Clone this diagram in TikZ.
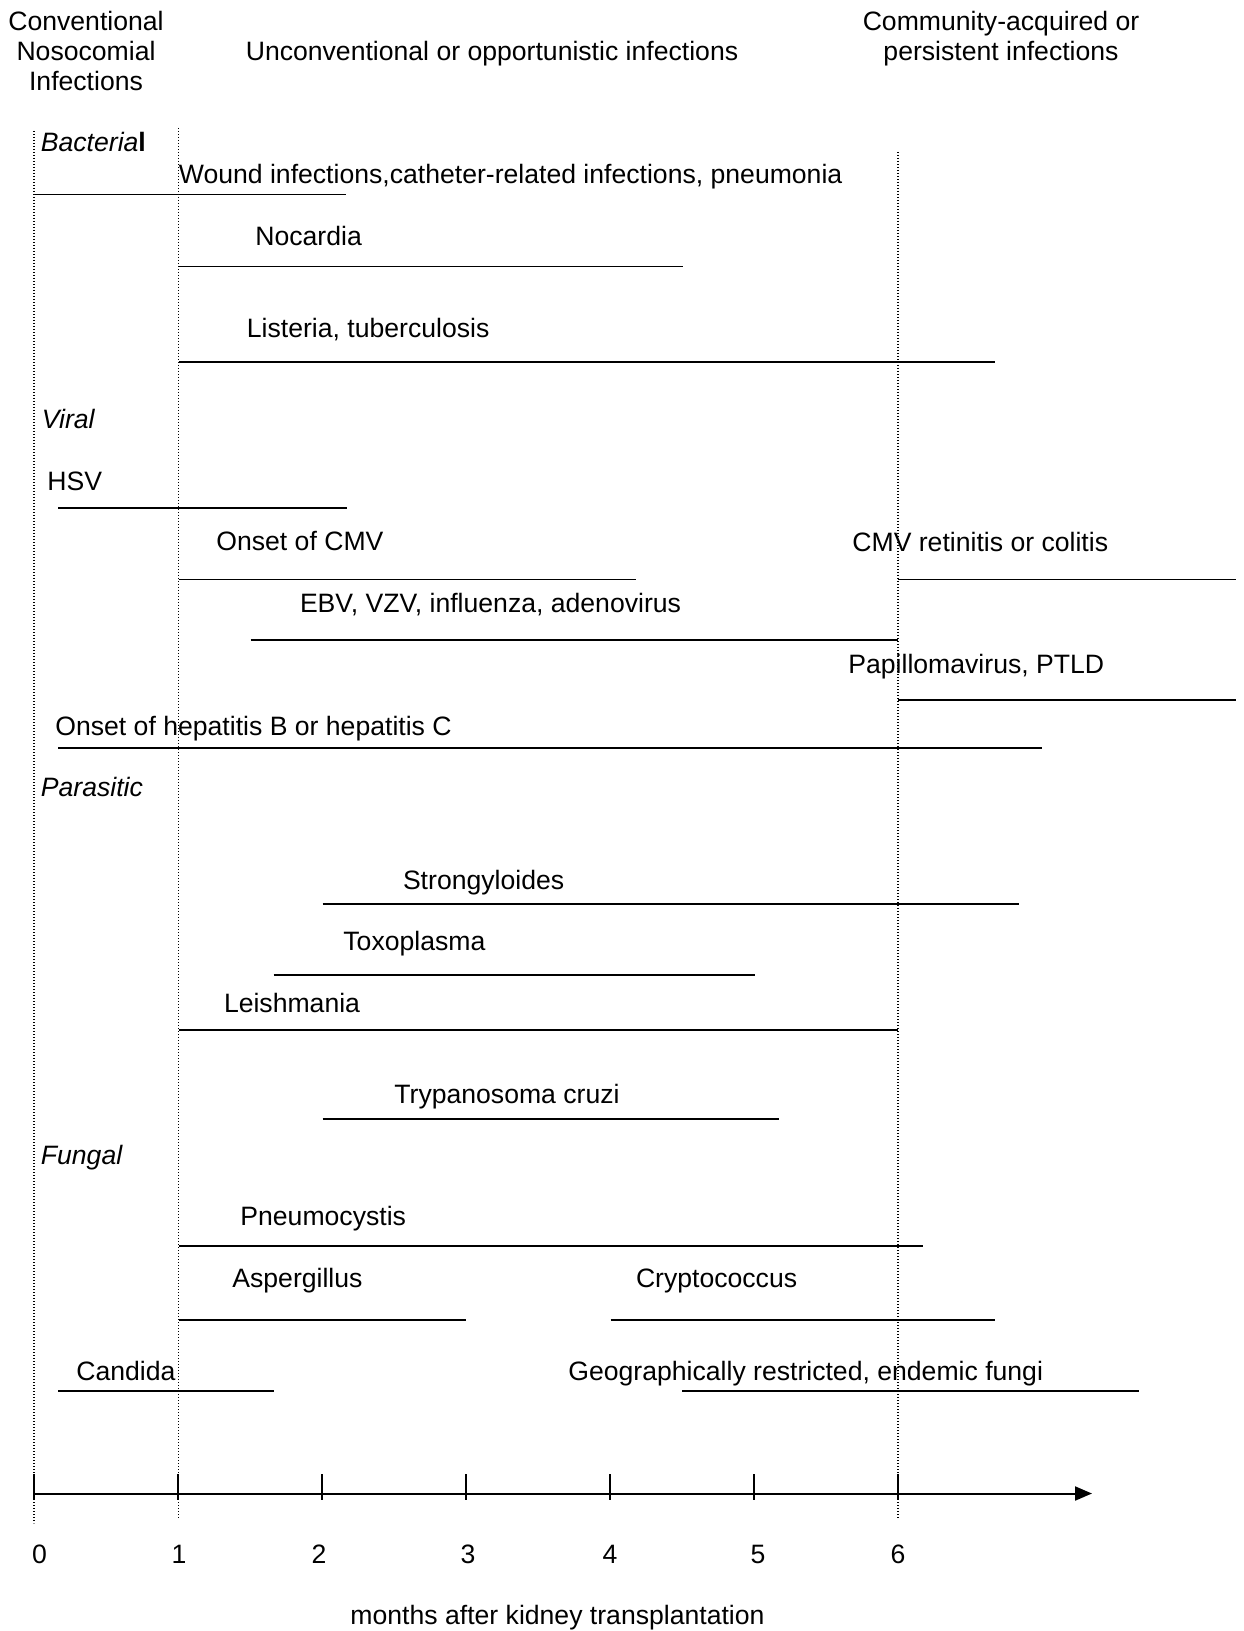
\documentclass[tikz,border=0pt]{standalone}
\usepackage{fontspec}
\setmainfont{Liberation Sans}
\usetikzlibrary{arrows.meta}
\tikzset{
  lbl/.style={anchor=base west, inner sep=0pt, font=\fontsize{13.3}{15}\selectfont},
  hdr/.style={anchor=base, inner sep=0pt, font=\fontsize{13.3}{15}\selectfont},
  bar/.style={line width=0.95pt},
  guide/.style={line width=0.6pt, dash pattern=on 0.6pt off 0.9pt},
  axisline/.style={line width=1pt},
  tick/.style={line width=0.7pt}
}
\begin{document}
\begin{tikzpicture}[x=0.5pt,y=-0.5pt]
\useasboundingbox (0,0) rectangle (1243,1631);
% headers
\node[hdr] (h1a) at (86,31) {Conventional};
\node[hdr] (h1b) at (86,61) {Nosocomial};
\node[hdr] (h1c) at (86,91) {Infections};
\node[hdr] (h2) at (492,61) {Unconventional or opportunistic infections};
\node[hdr] (h3a) at (1001,31) {Community-acquired or};
\node[hdr] (h3b) at (1001,61) {persistent infections};
% guides
\draw[guide] (34,131) -- (34,1523);
\draw[guide] (178.5,128) -- (178.5,1519);
\draw[guide] (898,152) -- (898,1519);
% Bacterial
\node[lbl] (bact) at (40.5,152) {{\itshape Bacteria}\textbf{l}};
\node[lbl] (wound) at (178.5,183.5) {Wound infections,catheter-related infections, pneumonia};
\draw[bar] (34,194.5) -- (346,194.5);
\node[lbl] (noc) at (255,246) {Nocardia};
\draw[bar] (178.5,266.5) -- (683,266.5);
\node[lbl] (list) at (246.5,337) {Listeria, tuberculosis};
\draw[bar] (178.5,362) -- (995,362);
% Viral
\node[lbl] (viral) at (41.5,428) {\itshape Viral};
\node[lbl] (hsv) at (47,490) {HSV};
\draw[bar] (58,507.6) -- (347,507.6);
\node[lbl] (cmv) at (216,550) {Onset of CMV};
\draw[bar] (178.5,579.5) -- (635.6,579.5);
\node[lbl] (cmvr) at (852,551) {CMV retinitis or colitis};
\draw[bar] (898,579.5) -- (1236,579.5);
\node[lbl] (ebv) at (299.6,612) {EBV, VZV, influenza, adenovirus};
\draw[bar] (250.7,640) -- (898,640);
\node[lbl] (pap) at (848,673) {Papillomavirus, PTLD};
\draw[bar] (898,700) -- (1236,700);
\node[lbl] (hep) at (55,735) {Onset of hepatitis B or hepatitis C};
\draw[bar] (58,748) -- (1042,748);
% Parasitic
\node[lbl] (para) at (40.5,796) {\itshape Parasitic};
\node[lbl] (stro) at (402.6,889) {Strongyloides};
\draw[bar] (322.5,904) -- (1019,904);
\node[lbl] (toxo) at (343,950) {Toxoplasma};
\draw[bar] (273.6,974.7) -- (755,974.7);
\node[lbl] (leish) at (223.6,1012) {Leishmania};
\draw[bar] (178.5,1030) -- (898,1030);
\node[lbl] (tryp) at (394,1103) {Trypanosoma cruzi};
\draw[bar] (322.5,1119) -- (779,1119);
% Fungal
\node[lbl] (fung) at (40.5,1164) {\itshape Fungal};
\node[lbl] (pneu) at (240,1225) {Pneumocystis};
\draw[bar] (178.5,1246) -- (922.6,1246);
\node[lbl] (asp) at (232,1287) {Aspergillus};
\draw[bar] (178.5,1320) -- (466,1320);
\node[lbl] (cryp) at (635.6,1287) {Cryptococcus};
\draw[bar] (610.6,1320) -- (995,1320);
\node[lbl] (cand) at (76,1380) {Candida};
\draw[bar] (58,1390.7) -- (273.6,1390.7);
\node[lbl] (geo) at (568,1380) {Geographically restricted, endemic fungi};
\draw[bar] (682,1390.7) -- (1139,1390.7);
% axis
\coordinate (ax0) at (34,1493.5);
\coordinate (axend) at (1092,1493.5);
\draw[axisline,-{Triangle[length=8.5pt,width=7pt]}] (ax0) -- (axend);
\foreach \m/\lx in {0/39.5,1/179,2/319,3/468,4/610,5/758,6/898}{
  \draw[tick] (34+144*\m,1474) -- (34+144*\m,1500);
  \node[hdr] (t\m) at (\lx,1563) {\m};
}
\node[hdr] (xlab) at (557.5,1624) {months after kidney transplantation};
\end{tikzpicture}
\end{document}
